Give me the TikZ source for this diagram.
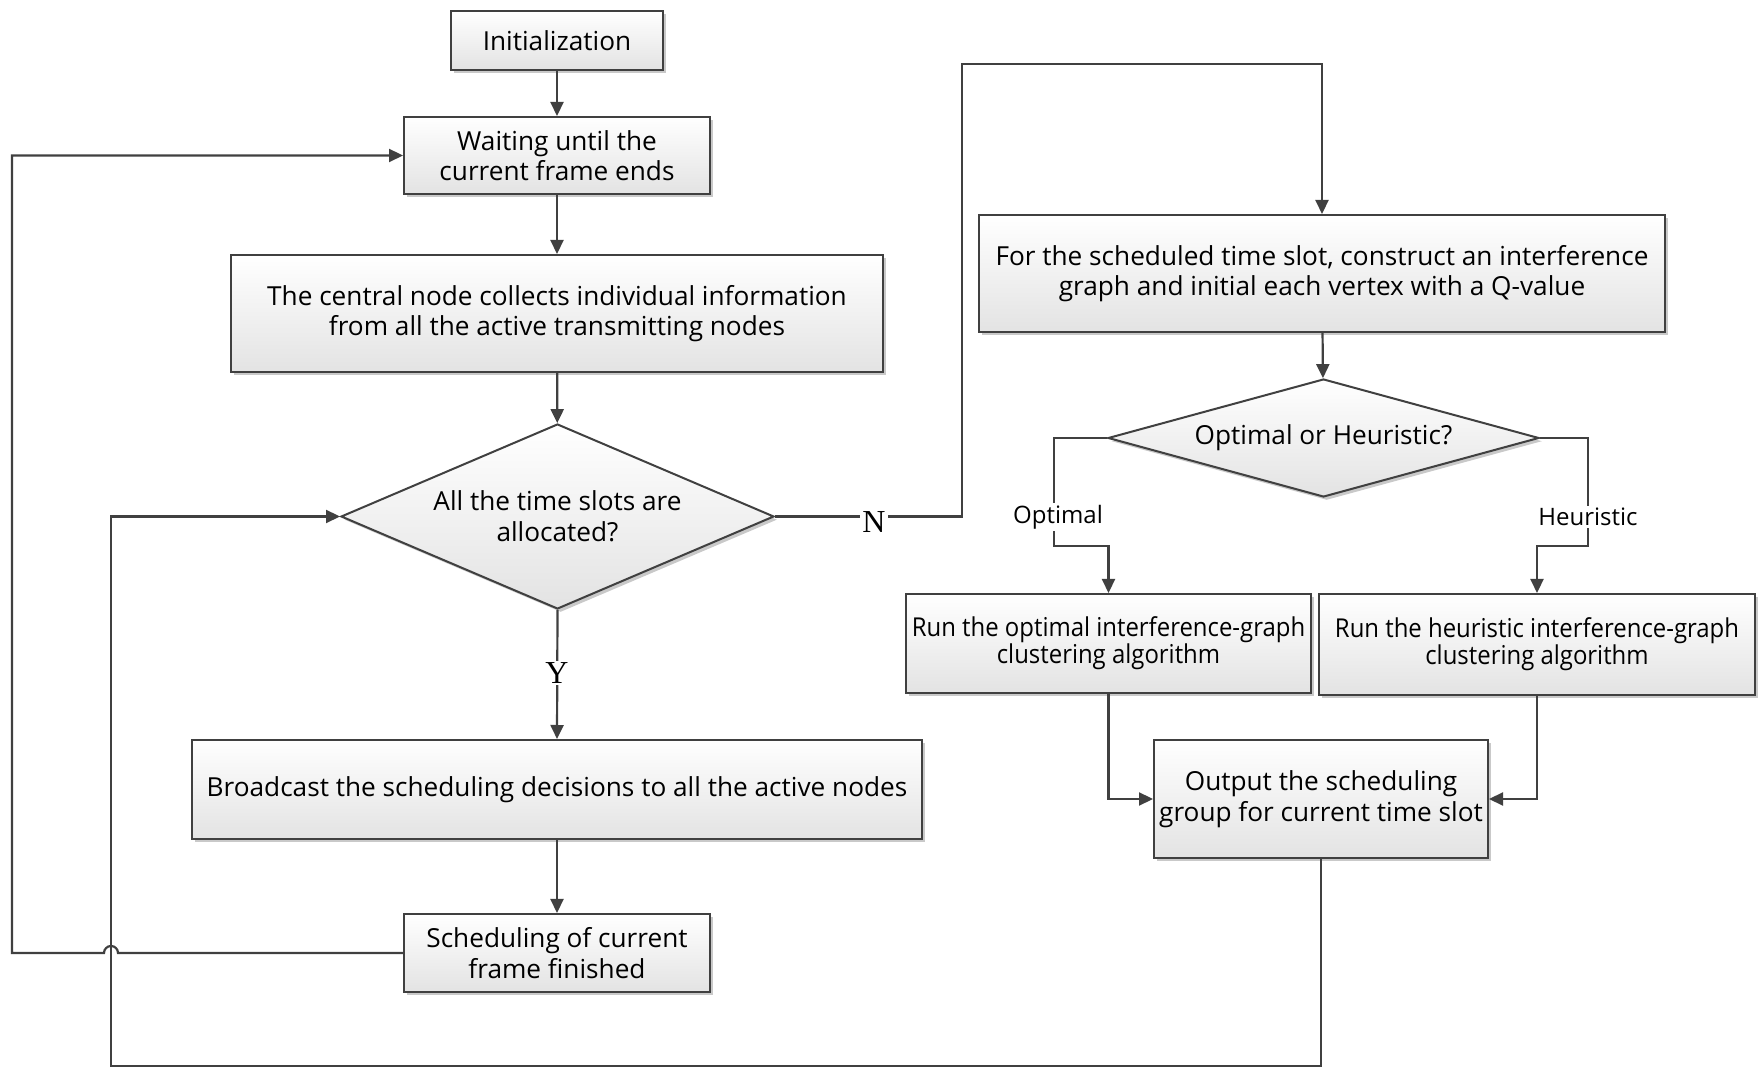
\documentclass[tikz,border=0pt]{standalone}
\usepackage{fontspec}
\setmainfont{Open Sans}
\newfontfamily\condfont[FakeStretch=0.92]{Open Sans}
\newfontfamily\seriffont{Liberation Serif}
\usetikzlibrary{arrows.meta,shapes.geometric,shadows}
\definecolor{linecol}{HTML}{404040}
\tikzset{
  box/.style={draw=linecol, line width=1pt, top color=white, bottom color=black!11,
    drop shadow={shadow xshift=1.6pt,shadow yshift=-1.6pt,fill=black!30,opacity=0.7},
    align=center, inner sep=2pt, font=\fontsize{13.1}{15.3}\selectfont, text=black},
  dec/.style={box, diamond, inner sep=0pt},
  arr/.style={draw=linecol, line width=1.1pt, -{Triangle[length=7pt,width=6.5pt]}},
  lbl/.style={fill=white, inner sep=1pt, text=black},
  ynlbl/.style={lbl, font=\seriffont\fontsize{16}{18}\selectfont},
  brlbl/.style={lbl, font=\fontsize{12}{14}\selectfont},
  runfont/.style={font=\condfont\fontsize{13}{13.5}\selectfont},
}
\begin{document}
\begin{tikzpicture}[x=0.5pt,y=-0.5pt]
\useasboundingbox (0,0) rectangle (1758,1068);
% left column
\node[box, minimum width=106pt, minimum height=29.5pt] (init) at (557,40.5) {Initialization};
\node[box, minimum width=153pt, minimum height=38.5pt] (wait) at (557,155.5) {Waiting until the\\current frame ends};
\node[box, minimum width=326pt, minimum height=58.5pt] (central) at (557,313.5) {The central node collects individual information\\from all the active transmitting nodes};
\node[dec, aspect=2.34, minimum width=216.5pt, minimum height=92.5pt] (dia1) at (557.5,516.5) {All the time slots are\\allocated?};
\node[box, minimum width=365pt, minimum height=49.5pt] (bcast) at (557,789.5) {Broadcast the scheduling decisions to all the active nodes};
\node[box, minimum width=153pt, minimum height=39pt] (fin) at (557,953) {Scheduling of current\\frame finished};
% right column
\node[box, minimum width=343pt, minimum height=58.5pt] (for) at (1322,273.5) {For the scheduled time slot, construct an interference\\graph and initial each vertex with a Q-value};
\node[dec, aspect=3.65, minimum width=215.5pt, minimum height=59pt] (dia2) at (1323.5,438) {Optimal or Heuristic?};
\node[box, runfont, minimum width=202.5pt, minimum height=49.5pt] (runopt) at (1108.5,643.5) {Run the optimal interference-graph\\clustering algorithm};
\node[box, runfont, minimum width=218pt, minimum height=50.5pt] (runheu) at (1537,644.5) {Run the heuristic interference-graph\\clustering algorithm};
\node[box, minimum width=167pt, minimum height=59pt] (output) at (1321,799) {Output the scheduling\\group for current time slot};
% connectors left
\draw[arr] (init) -- (wait);
\draw[arr] (wait) -- (central);
\draw[arr] (central) -- (dia1);
\draw[arr] (dia1.south) -- (bcast.north);
\node[ynlbl] (ylab) at (557,673) {Y};
\draw[arr] (bcast) -- (fin);
\draw[arr] (fin.west) -- (118,953) arc[start angle=0, end angle=-180, radius=7] -- (12,953) |- (wait.west);
\draw[arr] (output.south) |- (111,1066) |- (dia1.west);
\draw[arr] (dia1.east) -| (962,64) -| (for.north);
\node[ynlbl] (nlab) at (874,522) {N};
% connectors right
\draw[arr] (for) -- (dia2);
\draw[arr] (dia2.west) -| (1054,546) -| (runopt.north);
\draw[arr] (dia2.east) -| (1588,546) -| (runheu.north);
\node[brlbl] (olab) at (1058,517) {Optimal};
\node[brlbl] (hlab) at (1588,517) {Heuristic};
\draw[arr] (runopt.south) |- (output.west);
\draw[arr] (runheu.south) |- (output.east);
\end{tikzpicture}
\end{document}
